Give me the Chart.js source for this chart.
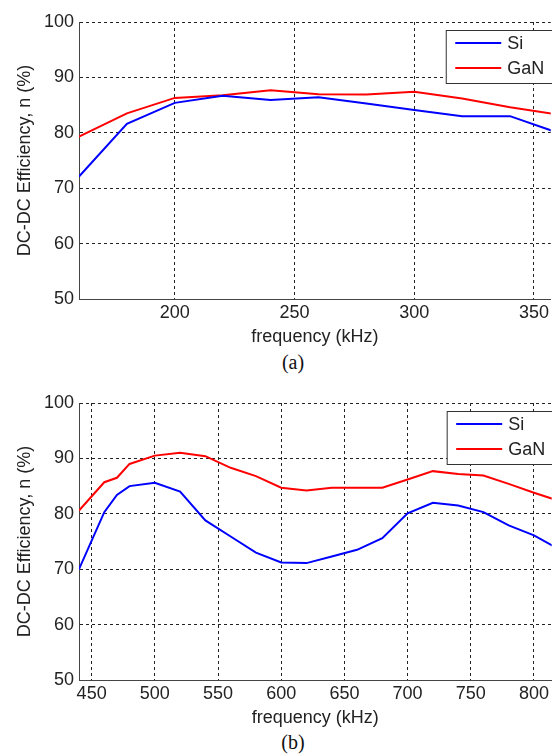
<!DOCTYPE html>
<html>
<head>
<meta charset="utf-8">
<script src="https://cdn.jsdelivr.net/npm/chart.js@4.4.0/dist/chart.umd.min.js"></script>
<style>
  body { margin: 0; background: #fff; width: 552px; height: 754px; position: relative; overflow: hidden; }
  .wrap { position: absolute; left: 0; width: 552px; height: 348px; }
  .cap { position: absolute; left: 243px; width: 100px; text-align: center; font: 20px "Liberation Serif", "Times New Roman", serif; color: #111; line-height: 23px; }
</style>
</head>
<body>
<div class="wrap" style="top:0"><canvas id="chartA" width="552" height="348"></canvas></div>
<div class="cap" style="top:351px">(a)</div>
<div class="wrap" style="top:381px"><canvas id="chartB" width="552" height="348"></canvas></div>
<div class="cap" style="top:731px">(b)</div>
<script>
// (a) 160-360 kHz
const freqA = [160, 180, 200, 220, 240, 260, 280, 300, 320, 340, 360];
const siA   = [72.1, 81.6, 85.4, 86.7, 85.9, 86.4, 85.3, 84.1, 83.0, 83.0, 80.0];
const ganA  = [79.3, 83.5, 86.3, 86.8, 87.7, 86.95, 86.9, 87.4, 86.2, 84.6, 83.3];
const xTicksA = [200, 250, 300, 350];

// (b) 440-820 kHz
const freqB = [440, 460, 470, 480, 500, 520, 540, 560, 580, 600, 620, 640, 660, 680, 700, 720, 740, 760, 780, 800, 820];
const siB   = [70.0, 80.3, 83.4, 85.0, 85.6, 84.0, 78.8, 75.9, 73.0, 71.2, 71.1, 72.3, 73.5, 75.6, 80.1, 82.0, 81.5, 80.3, 77.9, 76.1, 73.6];
const ganB  = [80.6, 85.7, 86.5, 89.0, 90.5, 91.0, 90.4, 88.3, 86.8, 84.7, 84.2, 84.7, 84.7, 84.7, 86.2, 87.7, 87.2, 86.9, 85.4, 83.8, 82.3];
const xTicksB = [450, 500, 550, 600, 650, 700, 750, 800];

const yTicks = [50, 60, 70, 80, 90, 100];

Chart.defaults.font.family = '"Liberation Sans", Arial, sans-serif';
Chart.defaults.font.size = 18;
Chart.defaults.color = "#222";

// MATLAB style legend box in the top right corner of the plot
const boxLegend = {
  id: "boxLegend",
  afterDatasetsDraw(chart) {
    const { ctx, chartArea } = chart;
    const left = chartArea.right - 104.5;
    const top = chartArea.top + 8.5;
    ctx.save();
    ctx.fillStyle = "#fff";
    ctx.fillRect(left, top, 120, 53);
    ctx.strokeStyle = "#333";
    ctx.lineWidth = 1;
    ctx.strokeRect(left, top, 120, 53);
    ctx.font = '18px "Liberation Sans", Arial, sans-serif';
    ctx.textBaseline = "middle";
    chart.data.datasets.forEach((ds, i) => {
      const y = top + 12.5 + i * 25;
      ctx.strokeStyle = ds.borderColor;
      ctx.lineWidth = 2;
      ctx.beginPath();
      ctx.moveTo(left + 9, y);
      ctx.lineTo(left + 55, y);
      ctx.stroke();
      ctx.fillStyle = "#222";
      ctx.fillText(ds.label, left + 61, y + 1);
    });
    ctx.restore();
  }
};

function makeChart(id, freq, si, gan, xMin, xMax, xTicks) {
  return new Chart(document.getElementById(id).getContext("2d"), {
    type: "line",
    data: {
      datasets: [{
        label: "Si",
        data: freq.map((f, i) => ({ x: f, y: si[i] })),
        borderColor: "#0000ff",
        borderWidth: 2,
        pointRadius: 0,
        tension: 0
      }, {
        label: "GaN",
        data: freq.map((f, i) => ({ x: f, y: gan[i] })),
        borderColor: "#ff0000",
        borderWidth: 2,
        pointRadius: 0,
        tension: 0
      }]
    },
    options: {
      responsive: false,
      animation: false,
      layout: { padding: { top: 22, left: 0, right: 0, bottom: 0 } },
      plugins: { legend: { display: false }, tooltip: { enabled: false } },
      scales: {
        x: {
          type: "linear",
          min: xMin,
          max: xMax,
          afterBuildTicks: s => { s.ticks = xTicks.map(v => ({ value: v })); },
          afterFit: s => { s.height = 49; },
          ticks: { padding: 3, maxRotation: 0, callback: v => v },
          grid: { color: "#222", lineWidth: 1, drawTicks: false },
          border: { display: true, color: "#444", width: 1, dash: [3, 3] },
          title: { display: true, text: "frequency (kHz)", padding: { top: 0, bottom: 0 }, font: { size: 18 } }
        },
        y: {
          min: 50,
          max: 100,
          afterBuildTicks: s => { s.ticks = yTicks.map(v => ({ value: v })); },
          afterFit: s => { s.width = 79; },
          ticks: { padding: 5 },
          grid: { color: "#222", lineWidth: 1, drawTicks: false },
          border: { display: true, color: "#444", width: 1, dash: [3, 3] },
          title: { display: true, text: "DC-DC Efficiency, n (%)", padding: { top: 14, bottom: 0 }, font: { size: 18 } }
        }
      }
    },
    plugins: [boxLegend]
  });
}

makeChart("chartA", freqA, siA, ganA, 160, 357, xTicksA);
makeChart("chartB", freqB, siB, ganB, 440, 814, xTicksB);
</script>
</body>
</html>
